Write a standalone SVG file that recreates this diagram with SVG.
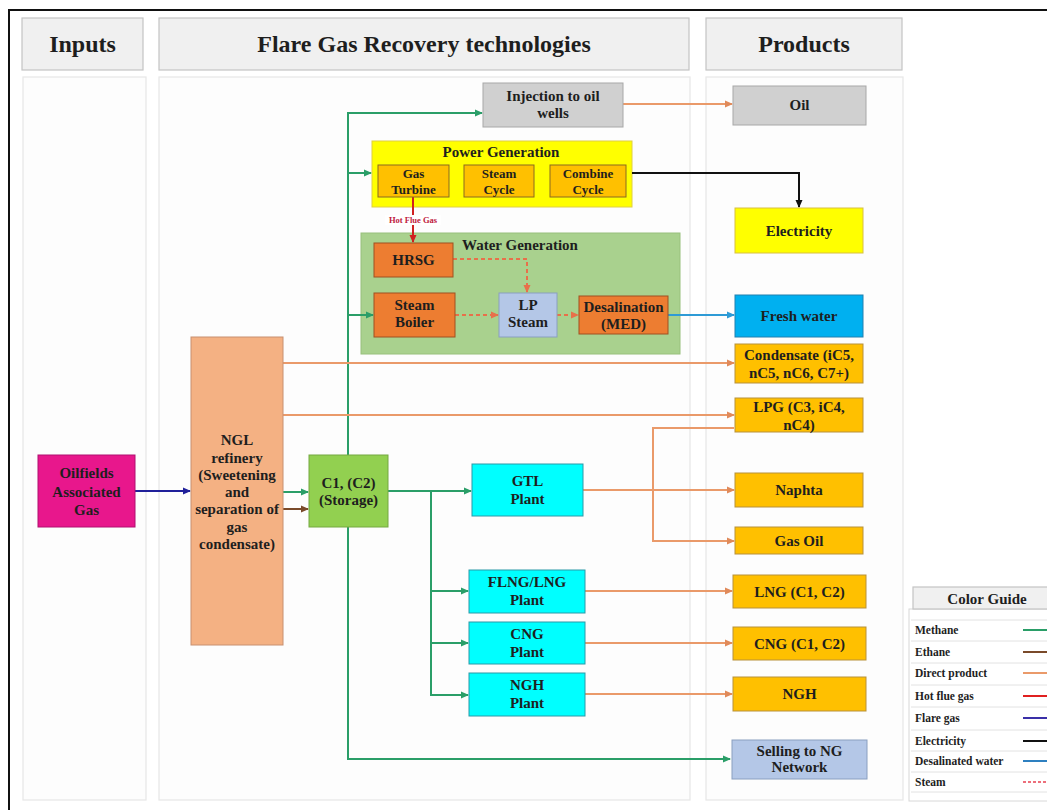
<svg xmlns="http://www.w3.org/2000/svg" width="1047" height="810" viewBox="0 0 1047 810">
<style>
.t{font-family:"Liberation Serif",serif;font-weight:bold;font-size:15px;fill:#1e1e1e;text-anchor:middle}
.s{font-size:13px}
.h{font-family:"Liberation Serif",serif;font-weight:bold;font-size:24px;fill:#1e1e1e;text-anchor:middle}
.g{font-family:"Liberation Serif",serif;font-weight:bold;font-size:11.5px;fill:#1e1e1e}
.hdr{fill:#f0f0f0;stroke:#c4c4c4;stroke-width:1.2}
.col{fill:#fdfdfd;stroke:#e6e6e6;stroke-width:1.2}
.prod{fill:#ffc000;stroke:#b8913a;stroke-width:1}
.gray{fill:#d0d0d0;stroke:#a8a8a8;stroke-width:1}
.cyan{fill:#00ffff;stroke:#2a9aa8;stroke-width:1}
.or{fill:#ed7d31;stroke:#a05020;stroke-width:1}
.sub{fill:#ffc000;stroke:#8a6a20;stroke-width:1}
.lb{fill:#b4c7e7;stroke:#8a9fc0;stroke-width:1}
.me{fill:none;stroke:#2a9e68;stroke-width:2}
.dp{fill:none;stroke:#ea9a6a;stroke-width:2}
.st{fill:none;stroke:#e8704a;stroke-width:2;stroke-dasharray:4 3}
</style>
<defs>
<marker id="aG" markerWidth="8" markerHeight="8" refX="7" refY="4" orient="auto" markerUnits="userSpaceOnUse"><path d="M0,0.5 L8,4 L0,7.5 z" fill="#2a9e68"/></marker>
<marker id="aO" markerWidth="8" markerHeight="8" refX="7" refY="4" orient="auto" markerUnits="userSpaceOnUse"><path d="M0,0.5 L8,4 L0,7.5 z" fill="#e08a5a"/></marker>
<marker id="aB" markerWidth="8" markerHeight="8" refX="7" refY="4" orient="auto" markerUnits="userSpaceOnUse"><path d="M0,0.5 L8,4 L0,7.5 z" fill="#20209a"/></marker>
<marker id="aBr" markerWidth="8" markerHeight="8" refX="7" refY="4" orient="auto" markerUnits="userSpaceOnUse"><path d="M0,0.5 L8,4 L0,7.5 z" fill="#7a4a2a"/></marker>
<marker id="aK" markerWidth="8" markerHeight="8" refX="7" refY="4" orient="auto" markerUnits="userSpaceOnUse"><path d="M0,0.5 L8,4 L0,7.5 z" fill="#111"/></marker>
<marker id="aR" markerWidth="8" markerHeight="8" refX="7" refY="4" orient="auto" markerUnits="userSpaceOnUse"><path d="M0,0.5 L8,4 L0,7.5 z" fill="#d02020"/></marker>
<marker id="aS" markerWidth="8" markerHeight="8" refX="7" refY="4" orient="auto" markerUnits="userSpaceOnUse"><path d="M0,0.5 L8,4 L0,7.5 z" fill="#e8704a"/></marker>
<marker id="aW" markerWidth="8" markerHeight="8" refX="7" refY="4" orient="auto" markerUnits="userSpaceOnUse"><path d="M0,0.5 L8,4 L0,7.5 z" fill="#2e9bd6"/></marker>
</defs>
<rect width="1047" height="810" fill="#ffffff"/>
<path d="M9,810 V10 H1047" fill="none" stroke="#111" stroke-width="2"/>

<g id="columns">
<rect class="col" x="23" y="77" width="123" height="723"/>
<rect class="col" x="159" y="77" width="531" height="723"/>
<rect class="col" x="706" y="77" width="197" height="723"/>
</g>
<g id="headers">
<rect class="hdr" x="22" y="18" width="121" height="52"/>
<text class="h" x="82.5" y="52">Inputs</text>
<rect class="hdr" x="159" y="18" width="530" height="52"/>
<text class="h" x="424" y="52">Flare Gas Recovery technologies</text>
<rect class="hdr" x="706" y="18" width="196" height="52"/>
<text class="h" x="804" y="52">Products</text>
</g>

<g id="group-power">
<rect x="372" y="141" width="260" height="66" fill="#ffff00" stroke="#e0d040" stroke-width="1"/>
<text class="t" x="501" y="157">Power Generation</text>
</g>
<g id="group-water">
<rect x="361" y="233" width="319" height="121" fill="#a9d18e" stroke="#98c07c" stroke-width="1"/>
<text class="t" x="520" y="250">Water Generation</text>
</g>

<g id="connectors">
<line x1="135" y1="491" x2="190" y2="491" stroke="#20209a" stroke-width="2" marker-end="url(#aB)"/>
<line class="me" x1="283" y1="492" x2="308" y2="492" marker-end="url(#aG)"/>
<line x1="283" y1="509" x2="308" y2="509" stroke="#7a4a2a" stroke-width="2" marker-end="url(#aBr)"/>
<path class="me" d="M348,455 V113 H482" marker-end="url(#aG)"/>
<line class="me" x1="348" y1="173" x2="371" y2="173" marker-end="url(#aG)"/>
<line class="me" x1="348" y1="315" x2="373" y2="315" marker-end="url(#aG)"/>
<path class="me" d="M348,527 V759 H730" marker-end="url(#aG)"/>
<line class="me" x1="388" y1="491" x2="471" y2="491" marker-end="url(#aG)"/>
<path class="me" d="M431,491 V695 H468" marker-end="url(#aG)"/>
<line class="me" x1="431" y1="591" x2="468" y2="591" marker-end="url(#aG)"/>
<line class="me" x1="431" y1="643" x2="468" y2="643" marker-end="url(#aG)"/>
<line class="dp" x1="623" y1="104" x2="732" y2="104" marker-end="url(#aO)"/>
<line class="dp" x1="283" y1="363" x2="734" y2="363" marker-end="url(#aO)"/>
<line class="dp" x1="283" y1="415" x2="734" y2="415" marker-end="url(#aO)"/>
<line class="dp" x1="583" y1="490" x2="734" y2="490" marker-end="url(#aO)"/>
<path class="dp" d="M734,428 H653 V541 H734" marker-end="url(#aO)"/>
<line class="dp" x1="585" y1="591" x2="732" y2="591" marker-end="url(#aO)"/>
<line class="dp" x1="585" y1="643" x2="732" y2="643" marker-end="url(#aO)"/>
<line class="dp" x1="585" y1="694" x2="732" y2="694" marker-end="url(#aO)"/>
<path d="M632,173 H799 V207" fill="none" stroke="#111" stroke-width="2" marker-end="url(#aK)"/>
<line x1="413" y1="197" x2="413" y2="242" stroke="#d02020" stroke-width="2" marker-end="url(#aR)"/>
<rect x="385" y="215" width="56" height="10" fill="#ffffff"/>
<text x="413" y="223" font-family="Liberation Serif,serif" font-weight="bold" font-size="8.5" fill="#c02040" text-anchor="middle">Hot Flue Gas</text>
<path class="st" d="M453,259 H527 V292" marker-end="url(#aS)"/>
<line class="st" x1="455" y1="315" x2="498" y2="315" marker-end="url(#aS)"/>
<line class="st" x1="557" y1="315" x2="578" y2="315" marker-end="url(#aS)"/>
<line x1="668" y1="315" x2="734" y2="315" stroke="#2e9bd6" stroke-width="2" marker-end="url(#aW)"/>
</g>

<g id="oilfields">
<rect x="38" y="455" width="97" height="72" fill="#e8178c" stroke="#b01070" stroke-width="1"/>
<text class="t" x="86.5" y="478" font-size="16.5">Oilfields</text>
<text class="t" x="86.5" y="497" font-size="16.5">Associated</text>
<text class="t" x="86.5" y="515" font-size="16.5">Gas</text>
</g>
<g id="ngl">
<rect x="191" y="337" width="92" height="308" fill="#f4b183" stroke="#c89070" stroke-width="1"/>
<text class="t" x="237" y="444.5">NGL</text>
<text class="t" x="237" y="462.5">refinery</text>
<text class="t" x="237" y="479.5">(Sweetening</text>
<text class="t" x="237" y="496.5">and</text>
<text class="t" x="237" y="514">separation of</text>
<text class="t" x="237" y="531.5">gas</text>
<text class="t" x="237" y="548.5">condensate)</text>
</g>
<g id="storage">
<rect x="309" y="455" width="79" height="72" fill="#92d050" stroke="#74a840" stroke-width="1"/>
<text class="t" x="348.5" y="488">C1, (C2)</text>
<text class="t" x="348.5" y="505">(Storage)</text>
</g>
<g id="injection">
<rect class="gray" x="483" y="83" width="140" height="44"/>
<text class="t" x="553" y="101">Injection to oil</text>
<text class="t" x="553" y="118">wells</text>
</g>
<g id="gas-turbine">
<rect class="sub" x="378" y="165" width="71" height="32"/>
<text class="t s" x="413.5" y="177.5">Gas</text>
<text class="t s" x="413.5" y="193.5">Turbine</text>
</g>
<g id="steam-cycle">
<rect class="sub" x="464" y="165" width="70" height="32"/>
<text class="t s" x="499" y="177.5">Steam</text>
<text class="t s" x="499" y="193.5">Cycle</text>
</g>
<g id="combine-cycle">
<rect class="sub" x="550" y="165" width="76" height="32"/>
<text class="t s" x="588" y="177.5">Combine</text>
<text class="t s" x="588" y="193.5">Cycle</text>
</g>
<g id="hrsg">
<rect class="or" x="374" y="243" width="79" height="34"/>
<text class="t" x="413.5" y="265">HRSG</text>
</g>
<g id="steam-boiler">
<rect class="or" x="374" y="293" width="81" height="44"/>
<text class="t" x="414.5" y="310">Steam</text>
<text class="t" x="414.5" y="327">Boiler</text>
</g>
<g id="lp-steam">
<rect class="lb" x="499" y="293" width="58" height="44"/>
<text class="t" x="528" y="310">LP</text>
<text class="t" x="528" y="327">Steam</text>
</g>
<g id="desalination">
<rect class="or" x="579" y="296" width="89" height="38"/>
<text class="t" x="623.5" y="312">Desalination</text>
<text class="t" x="623.5" y="329">(MED)</text>
</g>
<g id="gtl">
<rect class="cyan" x="472" y="464" width="111" height="52"/>
<text class="t" x="527.5" y="486">GTL</text>
<text class="t" x="527.5" y="504">Plant</text>
</g>
<g id="flng">
<rect class="cyan" x="469" y="570" width="116" height="43"/>
<text class="t" x="527" y="587">FLNG/LNG</text>
<text class="t" x="527" y="605">Plant</text>
</g>
<g id="cng-plant">
<rect class="cyan" x="469" y="622" width="116" height="42"/>
<text class="t" x="527" y="639">CNG</text>
<text class="t" x="527" y="657">Plant</text>
</g>
<g id="ngh-plant">
<rect class="cyan" x="469" y="673" width="116" height="43"/>
<text class="t" x="527" y="690">NGH</text>
<text class="t" x="527" y="708">Plant</text>
</g>
<g id="oil">
<rect class="gray" x="733" y="86" width="133" height="39"/>
<text class="t" x="799.5" y="110">Oil</text>
</g>
<g id="electricity">
<rect x="735" y="208" width="128" height="45" fill="#ffff00" stroke="#d8c040" stroke-width="1"/>
<text class="t" x="799" y="236">Electricity</text>
</g>
<g id="fresh-water">
<rect x="735" y="295" width="128" height="42" fill="#00b0f0" stroke="#2080b0" stroke-width="1"/>
<text class="t" x="799" y="321">Fresh water</text>
</g>
<g id="condensate">
<rect class="prod" x="735" y="344" width="128" height="39"/>
<text class="t" x="799" y="360">Condensate (iC5,</text>
<text class="t" x="799" y="378">nC5, nC6, C7+)</text>
</g>
<g id="lpg">
<rect class="prod" x="735" y="398" width="128" height="34"/>
<text class="t" x="799" y="412">LPG (C3, iC4,</text>
<text class="t" x="799" y="430">nC4)</text>
</g>
<g id="naphta">
<rect class="prod" x="735" y="473" width="128" height="34"/>
<text class="t" x="799" y="495">Naphta</text>
</g>
<g id="gas-oil">
<rect class="prod" x="735" y="527" width="128" height="27"/>
<text class="t" x="799" y="546">Gas Oil</text>
</g>
<g id="lng">
<rect class="prod" x="733" y="575" width="133" height="33"/>
<text class="t" x="799.5" y="597">LNG (C1, C2)</text>
</g>
<g id="cng">
<rect class="prod" x="733" y="627" width="133" height="33"/>
<text class="t" x="799.5" y="648.5">CNG (C1, C2)</text>
</g>
<g id="ngh">
<rect class="prod" x="733" y="677" width="133" height="34"/>
<text class="t" x="799.5" y="699">NGH</text>
</g>
<g id="selling">
<rect class="lb" x="732" y="740" width="135" height="39"/>
<text class="t" x="799.5" y="756">Selling to NG</text>
<text class="t" x="799.5" y="772">Network</text>
</g>

<g id="color-guide">
<rect x="909" y="609" width="140" height="192" fill="#ffffff" stroke="#d8d8d8" stroke-width="1"/>
<rect class="hdr" x="913" y="587" width="136" height="22"/>
<text class="t" x="987" y="604">Color Guide</text>
<g stroke="#e2e2e2" stroke-width="1">
<line x1="911" y1="620" x2="1047" y2="620"/>
<line x1="911" y1="641" x2="1047" y2="641"/>
<line x1="911" y1="663" x2="1047" y2="663"/>
<line x1="911" y1="685" x2="1047" y2="685"/>
<line x1="911" y1="707" x2="1047" y2="707"/>
<line x1="911" y1="730" x2="1047" y2="730"/>
<line x1="911" y1="751" x2="1047" y2="751"/>
<line x1="911" y1="772" x2="1047" y2="772"/>
<line x1="911" y1="792" x2="1047" y2="792"/>
</g>
<text class="g" x="915" y="634">Methane</text>
<text class="g" x="915" y="656">Ethane</text>
<text class="g" x="915" y="677">Direct product</text>
<text class="g" x="915" y="700">Hot flue gas</text>
<text class="g" x="915" y="722">Flare gas</text>
<text class="g" x="915" y="745">Electricity</text>
<text class="g" x="915" y="765">Desalinated water</text>
<text class="g" x="915" y="786">Steam</text>
<line x1="1023" y1="630" x2="1047" y2="630" stroke="#2a9e68" stroke-width="2"/>
<line x1="1023" y1="652" x2="1047" y2="652" stroke="#7a4a2a" stroke-width="2"/>
<line x1="1023" y1="673" x2="1047" y2="673" stroke="#ea9a6a" stroke-width="2"/>
<line x1="1023" y1="696" x2="1047" y2="696" stroke="#e02020" stroke-width="2"/>
<line x1="1023" y1="718" x2="1047" y2="718" stroke="#3a30a8" stroke-width="2"/>
<line x1="1023" y1="741" x2="1047" y2="741" stroke="#111" stroke-width="2"/>
<line x1="1023" y1="761" x2="1047" y2="761" stroke="#2e80c0" stroke-width="2"/>
<line x1="1023" y1="782" x2="1047" y2="782" stroke="#e84050" stroke-width="1.5" stroke-dasharray="3 2"/>
</g>
</svg>
